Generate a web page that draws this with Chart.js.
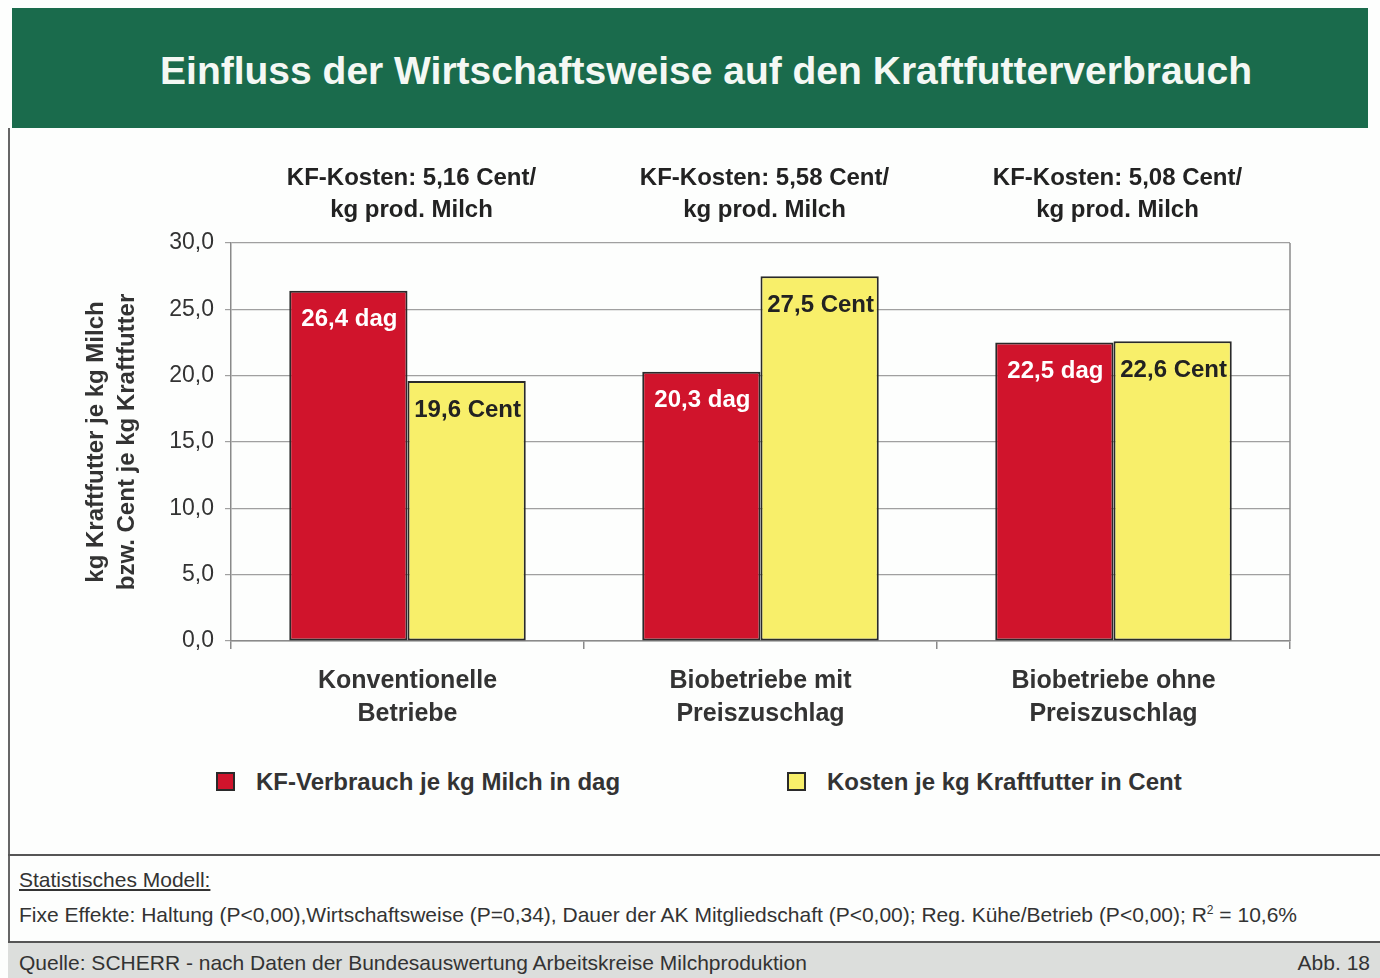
<!DOCTYPE html>
<html lang="de">
<head>
<meta charset="utf-8">
<title>Einfluss der Wirtschaftsweise auf den Kraftfutterverbrauch</title>
<script src="https://cdn.jsdelivr.net/npm/chart.js@4.4.1/dist/chart.umd.min.js"></script>
<style>
    body {
        margin: 0;
        width: 1380px;
        height: 978px;
        position: relative;
        background: #fdfefd;
        font-family: "Liberation Sans", Arial, sans-serif;
        overflow: hidden;
    }
    #header {
        position: absolute;
        left: 12px;
        top: 8px;
        width: 1356px;
        height: 120px;
        background: #1a6b4c;
        color: #f4f8f4;
        font-weight: bold;
        font-size: 39px;
        line-height: 126px;
        text-align: center;
        box-sizing: border-box;
        padding-left: 32px;
    }
    #leftBorder {
        position: absolute;
        left: 8px;
        top: 128px;
        width: 2px;
        height: 850px;
        background: #666;
    }
    #chartCanvas {
        position: absolute;
        left: 0;
        top: 140px;
    }
    .legend-item {
        position: absolute;
        top: 767px;
        font-weight: bold;
        font-size: 24px;
        color: #333;
        line-height: 30px;
    }
    .legend-box {
        display: inline-block;
        width: 15px;
        height: 15px;
        border: 2px solid #2a2a2a;
        vertical-align: -1px;
        margin-right: 21px;
    }
    #statLine {
        position: absolute;
        left: 8px;
        top: 854px;
        width: 1372px;
        height: 2px;
        background: #555;
    }
    .note {
        position: absolute;
        left: 19px;
        font-size: 21px;
        color: #333;
        white-space: nowrap;
    }
    #footer {
        position: absolute;
        left: 8px;
        top: 941px;
        width: 1372px;
        height: 37px;
        background: #dcdedc;
        border-top: 2px solid #555;
        font-size: 21px;
        color: #333;
    }
</style>
</head>
<body>
<div id="header">Einfluss der Wirtschaftsweise auf den Kraftfutterverbrauch</div>
<div id="leftBorder"></div>
<canvas id="chartCanvas" width="1380" height="620"></canvas>
<div id="legend"></div>
<div id="statLine"></div>
<div class="note" style="top: 868px; text-decoration: underline;">Statistisches Modell:</div>
<div class="note" style="top: 903px;">Fixe Effekte: Haltung (P&lt;0,00),Wirtschaftsweise (P=0,34), Dauer der AK Mitgliedschaft (P&lt;0,00); Reg. Kühe/Betrieb (P&lt;0,00); R<sup style="font-size: 12px;">2</sup> = 10,6%</div>
<div id="footer">
    <span style="position: absolute; left: 11px; top: 8px;">Quelle: SCHERR - nach Daten der Bundesauswertung Arbeitskreise Milchproduktion</span>
    <span style="position: absolute; right: 10px; top: 8px;">Abb. 18</span>
</div>

<script>
// Kategorien (x-Achse, zweizeilig)
const categories = [
    ['Konventionelle', 'Betriebe'],
    ['Biobetriebe mit', 'Preiszuschlag'],
    ['Biobetriebe ohne', 'Preiszuschlag']
];

// KF-Kosten je Gruppe (Text über den Balken)
const kfKosten = ['5,16', '5,58', '5,08'];

// Werte
const verbrauchDag = [26.4, 20.3, 22.5];
const kostenCent = [19.6, 27.5, 22.6];

// Achse
const yTicks = [0, 5, 10, 15, 20, 25, 30];

const seriesNames = ['KF-Verbrauch je kg Milch in dag', 'Kosten je kg Kraftfutter in Cent'];
const seriesUnits = ['dag', 'Cent'];
const seriesColors = ['#d0142c', '#f8ef6a'];
const labelColors = ['#ffffff', '#222222'];

const fmt = v => v.toFixed(1).replace('.', ',');

// Werte in die Balken schreiben (auf Balkenbreite beschnitten)
const barLabelPlugin = {
    id: 'barLabels',
    afterDatasetsDraw(chart) {
        const ctx = chart.ctx;
        chart.data.datasets.forEach((ds, i) => {
            const meta = chart.getDatasetMeta(i);
            meta.data.forEach((bar, j) => {
                ctx.save();
                ctx.beginPath();
                ctx.rect(bar.x - bar.width / 2, bar.y, bar.width, bar.base - bar.y);
                ctx.clip();
                ctx.font = 'bold 24px "Liberation Sans", Arial, sans-serif';
                ctx.textAlign = 'center';
                ctx.textBaseline = 'middle';
                ctx.fillStyle = labelColors[i];
                ctx.fillText(fmt(ds.data[j]) + ' ' + seriesUnits[i], bar.x + 1, bar.y + 29);
                ctx.restore();
            });
        });
    }
};

// KF-Kosten über jeder Gruppe + rechter Rahmen
const groupNotePlugin = {
    id: 'groupNotes',
    beforeDatasetsDraw(chart) {
        const {ctx, chartArea} = chart;
        ctx.save();
        ctx.strokeStyle = '#8a8a8a';
        ctx.lineWidth = 1.5;
        ctx.beginPath();
        ctx.moveTo(chartArea.right, chartArea.top);
        ctx.lineTo(chartArea.right, chartArea.bottom);
        ctx.stroke();
        ctx.restore();
    },
    afterDraw(chart) {
        const {ctx, chartArea, scales} = chart;
        ctx.save();
        ctx.font = 'bold 24px "Liberation Sans", Arial, sans-serif';
        ctx.fillStyle = '#222';
        ctx.textAlign = 'center';
        ctx.textBaseline = 'middle';
        kfKosten.forEach((k, i) => {
            const x = scales.x.getPixelForValue(i) + 4;
            ctx.fillText('KF-Kosten: ' + k + ' Cent/', x, chartArea.top - 65);
            ctx.fillText('kg prod. Milch', x, chartArea.top - 33);
        });
        ctx.restore();
    }
};

const ctx = document.getElementById('chartCanvas').getContext('2d');
const chart = new Chart(ctx, {
    type: 'bar',
    data: {
        labels: categories,
        datasets: [
            {
                label: seriesNames[0],
                data: verbrauchDag,
                backgroundColor: seriesColors[0],
                borderColor: '#2a2a2a',
                borderWidth: 2,
                borderSkipped: false
            },
            {
                label: seriesNames[1],
                data: kostenCent,
                backgroundColor: seriesColors[1],
                borderColor: '#2a2a2a',
                borderWidth: 2,
                borderSkipped: false
            }
        ]
    },
    options: {
        responsive: false,
        animation: false,
        datasets: {
            bar: {
                barPercentage: 1,
                categoryPercentage: 0.67
            }
        },
        layout: {
            padding: { left: 75, top: 103, right: 90, bottom: 9 }
        },
        plugins: {
            legend: { display: false },
            tooltip: { enabled: false }
        },
        scales: {
            x: {
                grid: {
                    offset: true,
                    drawOnChartArea: false,
                    tickLength: 8,
                    color: '#8a8a8a',
                    lineWidth: 1.5
                },
                border: { color: '#8a8a8a', width: 1.5 },
                ticks: {
                    padding: 16,
                    color: '#333',
                    font: { size: 25, weight: 'bold', family: '"Liberation Sans", Arial, sans-serif', lineHeight: 1.3 }
                },
                afterFit: scale => { scale.height = 110; }
            },
            y: {
                min: 0,
                max: 30,
                afterBuildTicks: scale => {
                    scale.ticks = yTicks.map(v => ({ value: v }));
                },
                grid: {
                    color: '#a0a0a0',
                    lineWidth: 1.2,
                    tickLength: 6
                },
                border: { color: '#8a8a8a', width: 1.5 },
                ticks: {
                    padding: 11,
                    color: '#333',
                    font: { size: 23, family: '"Liberation Sans", Arial, sans-serif' },
                    callback: value => fmt(value)
                },
                title: {
                    display: true,
                    text: ['kg Kraftfutter je kg Milch', 'bzw. Cent je kg Kraftfutter'],
                    color: '#333',
                    padding: { top: 6, bottom: 0 },
                    font: { size: 24, weight: 'bold', family: '"Liberation Sans", Arial, sans-serif', lineHeight: 1.3 }
                },
                afterFit: scale => { scale.width = 156; }
            }
        }
    },
    plugins: [barLabelPlugin, groupNotePlugin]
});

// Legende unterhalb
const legendEl = document.getElementById('legend');
const legendLeft = [216, 787];
seriesNames.forEach((name, i) => {
    const item = document.createElement('div');
    item.className = 'legend-item';
    item.style.left = legendLeft[i] + 'px';
    item.innerHTML = '<span class="legend-box" style="background:' + seriesColors[i] + '"></span>' + name;
    legendEl.appendChild(item);
});
</script>
</body>
</html>
